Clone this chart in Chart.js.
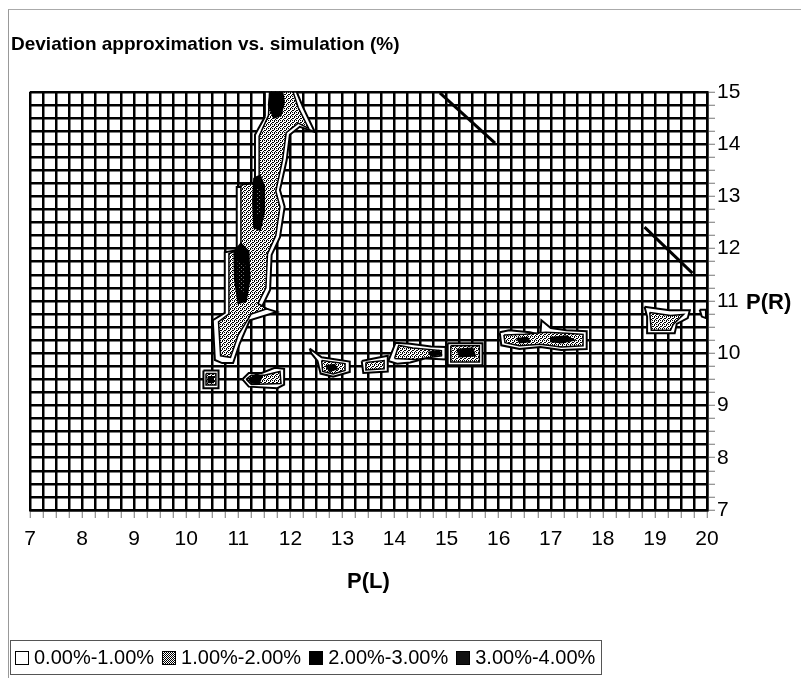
<!DOCTYPE html>
<html>
<head>
<meta charset="utf-8">
<script src="https://cdn.jsdelivr.net/npm/chart.js@4.4.1/dist/chart.umd.min.js"></script>
<style>
  body { margin: 0; background: #fff; }
  #wrap { position: relative; width: 801px; height: 678px; font-family: "Liberation Sans", Arial, sans-serif; overflow: hidden; }
  #frame { position: absolute; left: 8px; top: 9px; width: 820px; height: 700px; border-left: 1px solid #999; border-top: 1px solid #aaa; }
  #pr { position: absolute; left: 746px; top: 289px; font-weight: bold; font-size: 22px; }
  #legend { position: absolute; left: 10px; top: 640px; border: 1px solid #555; padding: 5px 6px 5px 4px; display: flex; font-size: 20px; white-space: nowrap; }
  #legend span.item { display: flex; align-items: center; margin-right: 8px; }
  #legend span.item:last-child { margin-right: 0; }
  #legend i { display: inline-block; width: 12px; height: 12px; border: 1px solid #000; margin-right: 5px; }
</style>
</head>
<body>
<div id="wrap">
  <div id="frame"></div>
  <canvas id="contour" width="801" height="678"></canvas>
  <div id="pr">P(R)</div>
  <div id="legend"></div>
</div>
<script>
// axes
const xRange = [7, 20];
const yRange = [7, 15];
const gridStep = 0.25;
const titleText = 'Deviation approximation vs. simulation (%)';
const xTitle = 'P(L)';
const levelLabels = ['0.00%-1.00%', '1.00%-2.00%', '2.00%-3.00%', '3.00%-4.00%'];

// contour regions, [P(L), P(R)]
// level 1 = 0-1%, 2 = 1-2%, 3 = 2-3%, 4 = 3-4%
const bandL1 = [[11.50,15.0],[11.51,14.52],[11.32,14.18],[11.32,13.18],[10.97,13.18],[10.97,11.97],[10.74,11.93],[10.74,10.77],[10.51,10.63],[10.55,9.87],[10.69,9.81],[10.90,9.81],[11.03,10.19],[11.22,10.63],[11.74,10.79],[11.45,10.88],[11.61,11.21],[11.64,11.88],[11.80,12.22],[11.89,12.80],[11.80,13.12],[11.93,13.70],[11.99,14.18],[12.18,14.33],[12.47,14.23],[12.24,14.71],[12.12,15.0]];
const bandL2 = [[11.60,15.0],[11.58,14.55],[11.40,14.15],[11.40,13.25],[11.05,13.22],[11.05,12.0],[10.82,11.9],[10.82,10.75],[10.62,10.6],[10.66,9.95],[10.85,9.92],[11.0,10.35],[11.25,10.75],[11.55,10.85],[11.38,10.95],[11.53,11.25],[11.56,11.9],[11.72,12.25],[11.80,12.8],[11.72,13.1],[11.85,13.7],[11.92,14.22],[12.15,14.4],[12.35,14.3],[12.15,14.7],[12.05,15.0]];
const bandTopL3 = [[11.62,15.0],[11.58,14.75],[11.68,14.5],[11.82,14.55],[11.88,14.8],[11.85,15.0]];
const bandMidL3 = [[11.30,13.35],[11.28,12.9],[11.30,12.4],[11.42,12.35],[11.50,12.7],[11.50,13.2],[11.42,13.4]];
const bandLowL3 = [[10.92,11.95],[10.93,11.4],[11.0,10.95],[11.15,11.0],[11.22,11.4],[11.20,11.95],[11.05,12.1]];
const bandMidL4 = [[11.33,13.2],[11.33,12.6],[11.45,12.7],[11.45,13.1]];
const bandLowL4 = [[10.97,11.8],[10.98,11.2],[11.12,11.15],[11.15,11.7]];

const squareL1 = [[10.33,9.67],[10.62,9.67],[10.62,9.33],[10.33,9.33]];
const squareL2 = [[10.38,9.61],[10.57,9.61],[10.57,9.39],[10.38,9.39]];
const squareL3 = [[10.42,9.55],[10.52,9.55],[10.52,9.44],[10.42,9.44]];

const lensL1 = [[11.08,9.5],[11.2,9.62],[11.45,9.62],[11.7,9.72],[11.88,9.7],[11.88,9.4],[11.75,9.33],[11.2,9.36]];
const lensL2 = [[11.15,9.5],[11.25,9.58],[11.5,9.58],[11.8,9.65],[11.82,9.42],[11.25,9.4]];
const lensL3 = [[11.2,9.5],[11.35,9.6],[11.45,9.55],[11.4,9.42],[11.25,9.43]];

const triL1 = [[12.37,10.09],[12.6,9.92],[13.14,9.84],[13.14,9.64],[12.82,9.55],[12.58,9.61],[12.52,9.85],[12.4,10.0]];
const triL2 = [[12.6,9.86],[13.05,9.8],[13.05,9.67],[12.82,9.6],[12.62,9.65]];
const triL3 = [[12.68,9.76],[12.85,9.78],[12.9,9.7],[12.75,9.65]];

const smallL1 = [[13.37,9.85],[13.6,9.9],[13.87,9.95],[13.87,9.65],[13.4,9.62]];
const smallL2 = [[13.45,9.82],[13.8,9.86],[13.8,9.7],[13.45,9.68]];

const midAL1 = [[13.88,9.85],[14.02,10.2],[14.3,10.18],[14.7,10.13],[14.98,10.12],[14.98,9.88],[14.6,9.9],[14.3,9.82],[14.05,9.8]];
const midAL2 = [[14.0,9.9],[14.08,10.15],[14.35,10.1],[14.9,10.05],[14.9,9.95],[14.4,9.88]];
const midAL3 = [[14.65,10.02],[14.85,10.05],[14.9,9.97],[14.7,9.95]];
const midBL1 = [[15.02,10.19],[15.69,10.19],[15.69,9.77],[15.02,9.77]];
const midBL2 = [[15.08,10.14],[15.63,10.14],[15.63,9.83],[15.08,9.83]];
const midBL3 = [[15.2,10.07],[15.5,10.1],[15.55,9.95],[15.25,9.93]];

const eastL1 = [[16.02,10.4],[16.2,10.44],[16.6,10.4],[16.8,10.35],[16.82,10.63],[17.0,10.48],[17.3,10.44],[17.69,10.42],[17.69,10.08],[17.2,10.06],[16.8,10.12],[16.4,10.08],[16.05,10.15]];
const eastL2 = [[16.1,10.35],[16.5,10.36],[16.9,10.4],[17.3,10.38],[17.62,10.36],[17.62,10.14],[17.2,10.12],[16.8,10.17],[16.4,10.14],[16.12,10.2]];
const eastL3a = [[17.0,10.3],[17.3,10.33],[17.45,10.25],[17.2,10.2],[17.0,10.22]];
const eastL3b = [[16.35,10.28],[16.55,10.3],[16.6,10.22],[16.4,10.2]];

const farL1 = [[18.8,10.89],[19.0,10.86],[19.28,10.82],[19.67,10.82],[19.63,10.67],[19.42,10.56],[19.38,10.38],[18.86,10.38],[18.85,10.7]];
const farL2 = [[18.9,10.78],[19.3,10.72],[19.55,10.74],[19.35,10.55],[19.3,10.44],[18.93,10.44]];
const edgeL1 = [[19.86,10.83],[19.98,10.83],[19.98,10.67],[19.9,10.7]];

// isolated contour lines
const lineTop = [[14.87,14.98],[15.93,14.02]];
const lineRight = [[18.8,12.41],[19.72,11.53]];

const regions = [
  [1, bandL1], [2, bandL2], [3, bandTopL3], [3, bandMidL3], [3, bandLowL3], [4, bandMidL4], [4, bandLowL4],
  [1, squareL1], [2, squareL2], [3, squareL3],
  [1, lensL1], [2, lensL2], [3, lensL3],
  [1, triL1], [2, triL2], [3, triL3],
  [1, smallL1], [2, smallL2],
  [1, midAL1], [2, midAL2], [3, midAL3],
  [1, midBL1], [2, midBL2], [3, midBL3],
  [1, eastL1], [2, eastL2], [3, eastL3a], [3, eastL3b],
  [1, farL1], [2, farL2], [1, edgeL1]
];

const canvas = document.getElementById('contour');
const ctx = canvas.getContext('2d');

function makePattern(dots, bg, fg) {
  const c = document.createElement('canvas');
  c.width = 4; c.height = 4;
  const g = c.getContext('2d');
  g.fillStyle = bg;
  g.fillRect(0, 0, 4, 4);
  g.fillStyle = fg;
  dots.forEach(d => g.fillRect(d[0], d[1], 1, 1));
  return ctx.createPattern(c, 'repeat');
}

// stippled grey for 1-2%, near-black for 3-4%
const grayFill = makePattern([[0,0],[2,1],[1,2],[3,3],[2,0],[0,2]], '#fff', '#000');
const darkFill = makePattern([[1,1],[3,3]], '#000', '#777');
const levelFill = { 1: '#fff', 2: grayFill, 3: '#000', 4: darkFill };

const datasets = regions.map(([lvl, pts]) => ({
  data: pts.concat([pts[0]]).map(p => ({ x: p[0], y: p[1] })),
  showLine: true,
  fill: 'shape',
  backgroundColor: levelFill[lvl],
  borderColor: '#000',
  borderWidth: lvl === 1 ? 2 : 1.5,
  pointRadius: 0,
  tension: 0,
  order: 10 - lvl,
  yAxisID: 'y'
}));

[lineTop, lineRight].forEach(pts => {
  datasets.push({
    data: pts.map(p => ({ x: p[0], y: p[1] })),
    showLine: true,
    fill: false,
    borderColor: '#000',
    borderWidth: 3,
    pointRadius: 0,
    order: 0,
    yAxisID: 'y'
  });
});

const tickFont = { family: '"Liberation Sans", Arial, sans-serif', size: 21 };
const wholeOnly = v => (Math.abs(v - Math.round(v)) < 1e-6 ? String(Math.round(v)) : '');

new Chart(ctx, {
  type: 'scatter',
  data: { datasets: datasets },
  options: {
    responsive: false,
    animation: false,
    devicePixelRatio: 1,
    layout: { padding: { left: 11, right: 0, top: 0, bottom: 0 } },
    plugins: {
      legend: { display: false },
      tooltip: { enabled: false },
      title: {
        display: true,
        text: titleText,
        align: 'start',
        color: '#000',
        font: { family: '"Liberation Sans", Arial, sans-serif', size: 19, weight: 'bold' },
        padding: { top: 33, bottom: 36 }
      }
    },
    scales: {
      x: {
        type: 'linear',
        min: xRange[0],
        max: xRange[1],
        ticks: { stepSize: gridStep, autoSkip: false, maxRotation: 0, color: '#000', font: tickFont, padding: 9, callback: wholeOnly },
        grid: { color: '#000', lineWidth: 2.5, tickColor: '#777', tickWidth: 1, tickLength: 8 },
        border: { color: '#000', width: 2.5 },
        title: { display: true, text: xTitle, color: '#000', font: { family: '"Liberation Sans", Arial, sans-serif', size: 22, weight: 'bold' }, padding: { top: 0, bottom: 83 } },
        afterFit: s => { s.height = 168; }
      },
      y: {
        type: 'linear',
        position: 'right',
        min: yRange[0],
        max: yRange[1],
        ticks: { stepSize: gridStep, autoSkip: false, color: '#000', font: tickFont, padding: 2, callback: wholeOnly },
        grid: { color: '#000', lineWidth: 2.5, tickColor: '#777', tickWidth: 1, tickLength: 8 },
        border: { color: '#000', width: 2.5 },
        afterFit: s => { s.width = 94; }
      },
      yL: {
        type: 'linear',
        position: 'left',
        display: true,
        grid: { display: false, drawTicks: false },
        border: { display: false },
        ticks: { display: false },
        afterFit: s => { s.width = 19; }
      }
    }
  }
});

// legend box under the chart
const legend = document.getElementById('legend');
const swatch = [
  'background:#fff',
  'background:repeating-conic-gradient(#000 0 25%, #fff 0 50%) 0 0/2px 2px',
  'background:#000',
  'background:#111'
];
levelLabels.forEach((label, i) => {
  const item = document.createElement('span');
  item.className = 'item';
  item.innerHTML = '<i style="' + swatch[i] + '"></i>' + label;
  legend.appendChild(item);
});
</script>
</body>
</html>
